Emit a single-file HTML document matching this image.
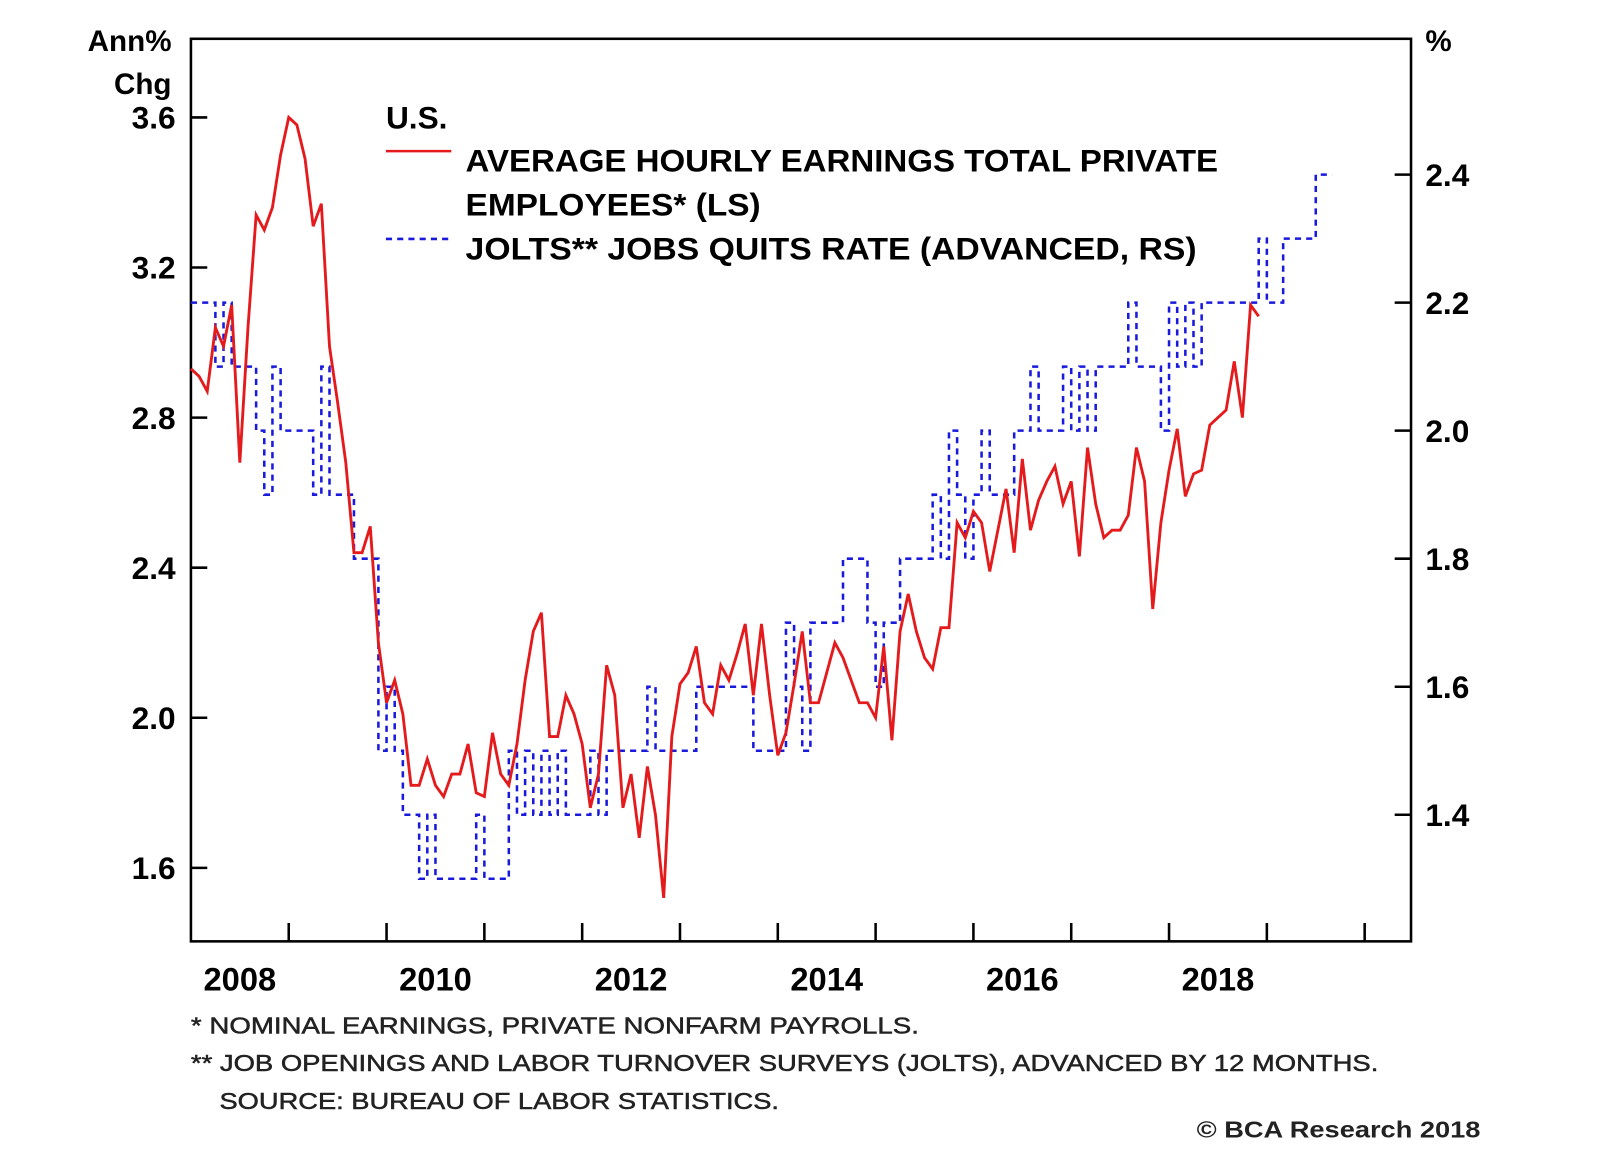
<!DOCTYPE html>
<html><head><meta charset="utf-8"><style>
html,body{margin:0;padding:0;background:#fff;}
svg{display:block;font-family:"Liberation Sans",Arial,sans-serif;}
</style></head><body>
<svg id="chart" width="1600" height="1152" viewBox="0 0 1600 1152">
<rect width="1600" height="1152" fill="#fff"/>
<g transform="scale(1.021)">
<g id="axes"></g>
<g id="series"></g>
<g font-weight="bold" font-size="31">
<text x="378" y="126">U.S.</text>
<line x1="378" y1="148" x2="442" y2="148" stroke="#e41a1c" stroke-width="2.5"/>
<text x="456" y="168" textLength="737" lengthAdjust="spacingAndGlyphs">AVERAGE HOURLY EARNINGS TOTAL PRIVATE</text>
<text x="456" y="211" textLength="289" lengthAdjust="spacingAndGlyphs">EMPLOYEES* (LS)</text>
<line x1="378" y1="234" x2="442" y2="234" stroke="#1a1adc" stroke-width="2.5" stroke-dasharray="6,5"/>
<text x="456" y="254" textLength="716" lengthAdjust="spacingAndGlyphs">JOLTS** JOBS QUITS RATE (ADVANCED, RS)</text>
</g>
<g font-size="23" fill="#222">
<text x="187" y="1012" textLength="713" lengthAdjust="spacingAndGlyphs" stroke="#222" stroke-width="0.5">*  NOMINAL EARNINGS, PRIVATE NONFARM PAYROLLS.</text>
<text x="187" y="1049" textLength="1163" lengthAdjust="spacingAndGlyphs" stroke="#222" stroke-width="0.5">** JOB OPENINGS AND LABOR TURNOVER SURVEYS (JOLTS), ADVANCED BY 12 MONTHS.</text>
<text x="215" y="1086" textLength="548" lengthAdjust="spacingAndGlyphs" stroke="#222" stroke-width="0.5">SOURCE: BUREAU OF LABOR STATISTICS.</text>
<text x="1172" y="1114" textLength="278" lengthAdjust="spacingAndGlyphs" font-weight="bold">© BCA Research 2018</text>
</g>
</g>
</svg>
<script>
const leftTicks=[1.6,2.0,2.4,2.8,3.2,3.6];
const rightTicks=[1.4,1.6,1.8,2.0,2.2,2.4];
const yearLabels=[2008,2010,2012,2014,2016,2018];
const earnings=[2.93,2.91,2.87,3.04,2.99,3.10,2.68,3.04,3.34,3.30,3.36,3.50,3.60,3.58,3.49,3.31,3.37,2.99,2.84,2.68,2.44,2.44,2.51,2.20,2.04,2.10,2.01,1.82,1.82,1.89,1.82,1.79,1.85,1.85,1.93,1.80,1.79,1.96,1.85,1.82,1.93,2.10,2.23,2.28,1.95,1.95,2.06,2.01,1.93,1.76,1.85,2.14,2.06,1.76,1.85,1.68,1.87,1.74,1.52,1.95,2.09,2.12,2.19,2.04,2.01,2.14,2.10,2.17,2.25,2.06,2.25,2.06,1.90,1.96,2.09,2.23,2.04,2.04,2.12,2.20,2.16,2.10,2.04,2.04,2.00,2.19,1.94,2.23,2.33,2.23,2.16,2.13,2.24,2.24,2.52,2.48,2.55,2.52,2.39,2.50,2.61,2.44,2.69,2.50,2.58,2.63,2.67,2.57,2.63,2.43,2.72,2.57,2.48,2.50,2.50,2.54,2.72,2.63,2.29,2.52,2.66,2.77,2.59,2.65,2.66,2.78,2.80,2.82,2.95,2.80,3.10,3.07];
const quits=[2.2,2.2,2.2,2.1,2.2,2.1,2.1,2.1,2.0,1.9,2.1,2.0,2.0,2.0,2.0,1.9,2.1,1.9,1.9,1.9,1.8,1.8,1.8,1.5,1.6,1.5,1.4,1.4,1.3,1.4,1.3,1.3,1.3,1.3,1.3,1.4,1.3,1.3,1.3,1.5,1.4,1.5,1.4,1.5,1.4,1.5,1.4,1.4,1.4,1.5,1.4,1.5,1.5,1.5,1.5,1.5,1.6,1.5,1.5,1.5,1.5,1.5,1.6,1.6,1.6,1.6,1.6,1.6,1.6,1.5,1.5,1.5,1.5,1.7,1.6,1.5,1.7,1.7,1.7,1.7,1.8,1.8,1.8,1.7,1.6,1.7,1.7,1.8,1.8,1.8,1.8,1.9,1.8,2.0,1.9,1.8,1.9,2.0,1.9,1.9,1.9,2.0,2.0,2.1,2.0,2.0,2.0,2.1,2.0,2.1,2.0,2.1,2.1,2.1,2.1,2.2,2.1,2.1,2.1,2.0,2.2,2.1,2.2,2.1,2.2,2.2,2.2,2.2,2.2,2.2,2.2,2.3,2.2,2.2,2.3,2.3,2.3,2.3,2.4,2.4];
const startYear=2008;
const NS='http://www.w3.org/2000/svg';
const L=187,R=1382,T=38,B=922;
const xT=t=>L+(t-startYear)*95.8;
const yL=v=>115+(3.6-v)*367.5;
const yR=v=>171+(2.4-v)*627;
function mk(tag,attrs,parent){const e=document.createElementNS(NS,tag);for(const k in attrs)e.setAttribute(k,attrs[k]);parent.appendChild(e);return e;}
const axes=document.getElementById('axes'), ser=document.getElementById('series');
const frame=mk('rect',{x:L,y:T,width:R-L,height:B-T,fill:'none',stroke:'#000','stroke-width':2.5},axes);


leftTicks.forEach(v=>{
  const tk=mk('line',{x1:L,x2:L+16,y1:yL(v),y2:yL(v),stroke:'#000','stroke-width':2.5},axes);
  
  
  const t=mk('text',{x:172,y:yL(v)+11,'text-anchor':'end','font-size':31,'font-weight':'bold'},axes);
  t.textContent=v.toFixed(1);
  
  
});
rightTicks.forEach(v=>{
  const tk=mk('line',{x1:R-16,x2:R,y1:yR(v),y2:yR(v),stroke:'#000','stroke-width':2.5},axes);
  
  
  const t=mk('text',{x:1396,y:yR(v)+11,'font-size':31,'font-weight':'bold'},axes);
  t.textContent=v.toFixed(1);
  
  
});
for(let y=startYear+1;y<=2020;y++){
  const tk=mk('line',{x1:xT(y),x2:xT(y),y1:B-18,y2:B,stroke:'#000','stroke-width':2.5},axes);
  
  
}
yearLabels.forEach(y=>{
  const t=mk('text',{x:xT(y+0.5),y:970,'text-anchor':'middle','font-size':32,'font-weight':'bold'},axes);
  t.textContent=y;
  
  
});
const a1=mk('text',{x:168,y:50,'text-anchor':'end','font-size':29,'font-weight':'bold'},axes);a1.textContent='Ann%';


const a2=mk('text',{x:168,y:92,'text-anchor':'end','font-size':29,'font-weight':'bold'},axes);a2.textContent='Chg';


const a3=mk('text',{x:1396,y:50,'font-size':29,'font-weight':'bold'},axes);a3.textContent='%';


let d='';
quits.forEach((v,i)=>{const x=xT(startYear+i/12),y=yR(v);if(i===0)d=`M${x},${y}`;else d+=`H${x}V${y}`;});
d+=`H${xT(startYear+quits.length/12)}`;
const qp=mk('path',{d:d,fill:'none',stroke:'#1a1adc','stroke-width':2.5,'stroke-dasharray':'6,5'},ser);


const ep=mk('polyline',{points:earnings.map((v,i)=>`${xT(startYear+i/12)},${yL(v)}`).join(' '),fill:'none',stroke:'#e41a1c','stroke-width':2.8},ser);


</script>
</body></html>
